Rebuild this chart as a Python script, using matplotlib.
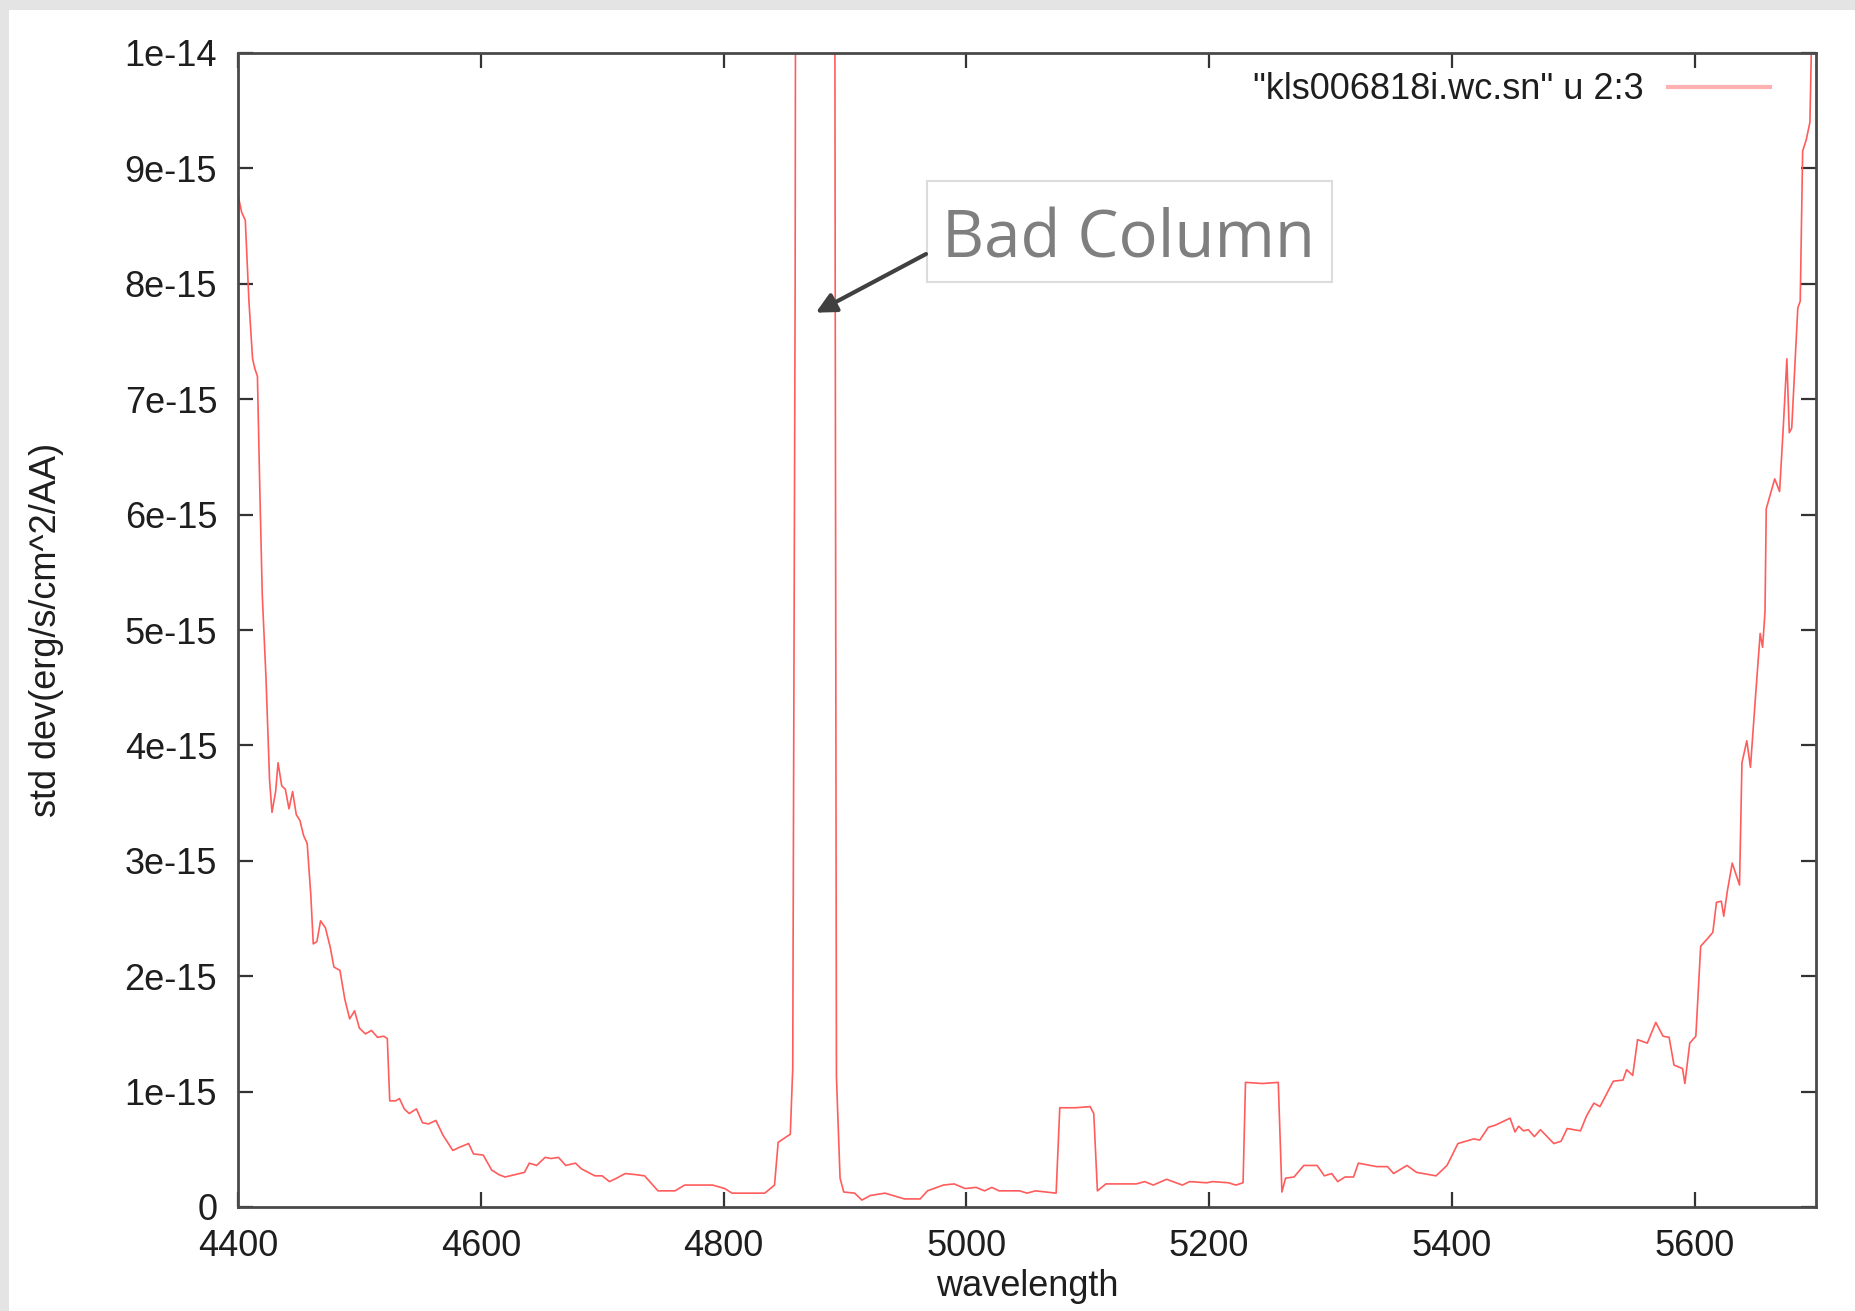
import numpy as np
import matplotlib.pyplot as plt
from matplotlib.patches import Rectangle
from matplotlib.ticker import FuncFormatter

# wavelength (AA) and std dev (units of 1e-15 erg/s/cm^2/AA)
wavelength = [
    4400, 4403, 4406, 4409, 4412, 4414, 4416, 4418, 4420, 4423, 4426, 4428,
    4431, 4433, 4436, 4439, 4442, 4445, 4448, 4451, 4454, 4457, 4460, 4462,
    4465, 4468, 4472, 4476, 4479, 4484, 4488, 4492, 4496, 4500, 4505, 4510,
    4515, 4520, 4523, 4525, 4530, 4533, 4537, 4541, 4547, 4552, 4557, 4563,
    4569, 4577, 4583, 4590, 4594, 4602, 4609, 4615, 4620, 4628, 4636, 4640,
    4646, 4653, 4658, 4664, 4670, 4678, 4683, 4694, 4700, 4706, 4712, 4719,
    4728, 4735, 4746, 4760, 4768, 4780, 4791, 4801, 4807, 4820, 4834, 4842,
    4845, 4852, 4855, 4857, 4859, 4861, 4890, 4892, 4893, 4896, 4899, 4908,
    4914, 4921, 4933, 4949, 4962, 4968, 4981, 4990, 4999, 5008, 5015, 5021,
    5027, 5044, 5050, 5057, 5074, 5077, 5090, 5102, 5105, 5108, 5115, 5140,
    5147, 5154, 5165, 5178, 5184, 5198, 5203, 5216, 5222, 5228, 5230, 5244,
    5257, 5260, 5263, 5270, 5278, 5289, 5295, 5301, 5306, 5312, 5319, 5323,
    5338, 5347, 5352, 5363, 5371, 5387, 5396, 5405, 5418, 5423, 5430, 5436,
    5442, 5448, 5452, 5455, 5459, 5463, 5468, 5473, 5484, 5490, 5495, 5506,
    5511, 5517, 5522, 5533, 5541, 5544, 5549, 5553, 5561, 5568, 5574, 5579,
    5583, 5590, 5592, 5596, 5601, 5605, 5611, 5615, 5618, 5622, 5624, 5627,
    5631, 5637, 5639, 5643, 5646, 5650, 5654, 5656, 5658, 5659, 5666, 5670,
    5673, 5676, 5678, 5680, 5685, 5687, 5689, 5692, 5695, 5698, 5700,
]
std_dev = [
    8.77, 8.62, 8.55, 7.85, 7.35, 7.26, 7.2, 6.2, 5.3, 4.6, 3.7, 3.42,
    3.6, 3.85, 3.65, 3.62, 3.45, 3.6, 3.4, 3.35, 3.22, 3.15, 2.7, 2.28,
    2.3, 2.48, 2.42, 2.25, 2.08, 2.05, 1.8, 1.63, 1.7, 1.55, 1.5, 1.53,
    1.47, 1.48, 1.46, 0.92, 0.92, 0.94, 0.85, 0.81, 0.85, 0.73, 0.72, 0.75,
    0.62, 0.49, 0.52, 0.55, 0.46, 0.45, 0.32, 0.28, 0.26, 0.28, 0.30, 0.38,
    0.36, 0.43, 0.42, 0.43, 0.36, 0.38, 0.33, 0.27, 0.27, 0.22, 0.25, 0.29,
    0.28, 0.27, 0.14, 0.14, 0.19, 0.19, 0.19, 0.16, 0.12, 0.12, 0.12, 0.19,
    0.56, 0.61, 0.63, 1.2, 8.0, 25.0, 25.0, 8.0, 1.13, 0.25, 0.13, 0.12,
    0.06, 0.10, 0.12, 0.07, 0.07, 0.14, 0.19, 0.20, 0.16, 0.17, 0.14, 0.17,
    0.14, 0.14, 0.12, 0.14, 0.12, 0.86, 0.86, 0.87, 0.81, 0.14, 0.20, 0.20,
    0.22, 0.19, 0.24, 0.19, 0.22, 0.21, 0.22, 0.21, 0.19, 0.21, 1.08, 1.07,
    1.08, 0.13, 0.25, 0.26, 0.36, 0.36, 0.27, 0.29, 0.22, 0.26, 0.26, 0.38,
    0.35, 0.35, 0.29, 0.36, 0.30, 0.27, 0.36, 0.55, 0.59, 0.58, 0.69, 0.71,
    0.74, 0.77, 0.65, 0.70, 0.66, 0.67, 0.61, 0.67, 0.55, 0.57, 0.68, 0.66,
    0.79, 0.90, 0.87, 1.09, 1.10, 1.19, 1.14, 1.45, 1.42, 1.60, 1.48, 1.47,
    1.23, 1.20, 1.07, 1.42, 1.48, 2.26, 2.33, 2.38, 2.64, 2.65, 2.52, 2.74,
    2.98, 2.79, 3.85, 4.04, 3.81, 4.4, 4.97, 4.85, 5.16, 6.05, 6.31, 6.2,
    6.75, 7.35, 6.71, 6.75, 7.79, 7.85, 9.15, 9.25, 9.4, 11.0, 12.0,
]

x_ticks = [4400, 4600, 4800, 5000, 5200, 5400, 5600]
y_ticks = [i * 1e-15 for i in range(11)]
series_label = '"kls006818i.wc.sn" u 2:3'
note_text = 'Bad Column'
note_tip = (4876, 7.75e-15)

plt.rcParams['font.family'] = ['Liberation Sans', 'DejaVu Sans']

fig = plt.figure(figsize=(18.55, 13.11), dpi=100)
fig.patch.set_facecolor('#e4e4e4')
# white panel inside the grey border
fig.patches.append(Rectangle((9 / 1855, 0), 1, 1 - 10 / 1311, transform=fig.transFigure,
                             facecolor='white', edgecolor='none', zorder=-10))

ax = fig.add_axes([238 / 1855, 1 - 1207 / 1311, 1578 / 1855, 1154 / 1311])
ax.set_zorder(5)
ax.set_facecolor('white')

y = np.array(std_dev) * 1e-15
line, = ax.plot(wavelength, y, color='#ff5c5c', lw=1.2, label=series_label)

ax.set_xlim(4400, 5700)
ax.set_ylim(0, 1e-14)
ax.set_xticks(x_ticks)
ax.set_yticks(y_ticks)
ax.yaxis.set_major_formatter(FuncFormatter(lambda v, p: '0' if abs(v) < 1e-20 else f'{v:.0e}'))

for s in ax.spines.values():
    s.set_color('#4a4a4a')
    s.set_linewidth(2.0)
ax.tick_params(direction='in', length=11, width=1.6, color='#333333',
               top=True, right=True, labelsize=26, labelcolor='#1e1e1e')
ax.tick_params(axis='y', pad=15)
ax.tick_params(axis='x', pad=16)

ax.set_xlabel('wavelength', fontsize=26, color='#1e1e1e')
ax.set_ylabel('std dev(erg/s/cm^2/AA)', fontsize=26, color='#1e1e1e')
ax.xaxis.set_label_coords(0.5, -0.054)
ax.yaxis.set_label_coords(-0.11, 0.5)

leg = ax.legend(loc='upper right', bbox_to_anchor=(0.982, 0.999), frameon=False,
                markerfirst=False, fontsize=26, borderpad=0, handlelength=2.8,
                handletextpad=0.68)
for h in leg.get_lines():
    h.set_color('#ffb0b0')
    h.set_linewidth(3)
for t in leg.get_texts():
    t.set_color('#1e1e1e')

# annotation box and arrow
ax.add_patch(Rectangle((0.4366, 0.8016), 0.2567, 0.0874, transform=ax.transAxes,
                       facecolor='white', edgecolor='#dcdcdc', lw=1.5, zorder=5))
ax.text(0.5643, 0.8232, note_text, transform=ax.transAxes, ha='center', va='baseline',
        fontsize=47, color='#7f7f7f', family=['Open Sans', 'DejaVu Sans'], zorder=6)
ax.annotate('', xy=note_tip, xycoords='data', xytext=(0.436, 0.8258), textcoords='axes fraction',
            arrowprops=dict(arrowstyle='-|>', color='#404040', lw=3, mutation_scale=30,
                            shrinkA=0, shrinkB=0), zorder=6)

fig.savefig('out.png', dpi=100, facecolor=fig.get_facecolor())
